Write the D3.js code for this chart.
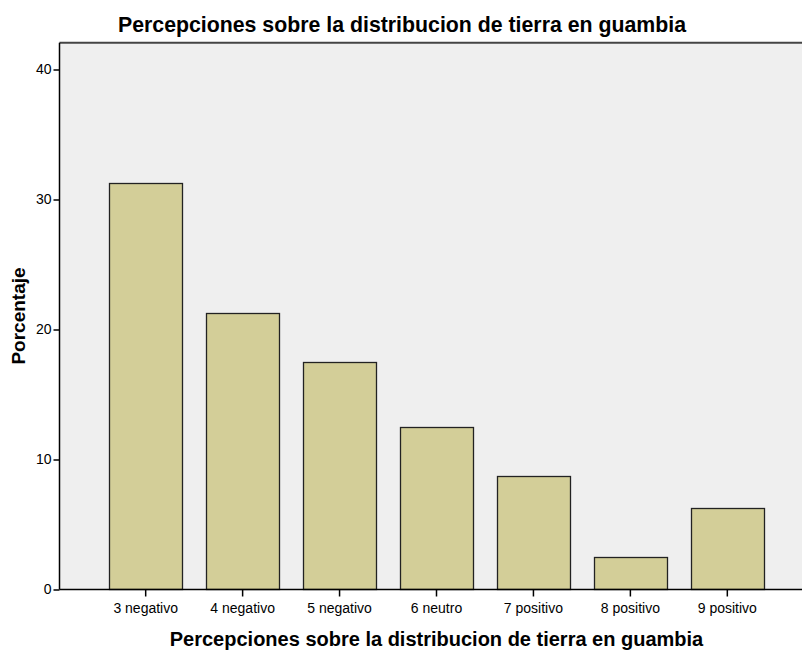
<!DOCTYPE html>
<html><head><meta charset="utf-8">
<script src="https://cdn.jsdelivr.net/npm/d3@7"></script>
<style>body{margin:0;background:#fff}svg{display:block;font-family:"Liberation Sans",Arial,sans-serif}</style>
</head><body><svg id="c" width="802" height="651"></svg>
<script>
const categories = ["3 negativo","4 negativo","5 negativo","6 neutro","7 positivo","8 positivo","9 positivo"];
const values = [31.25, 21.25, 17.5, 12.5, 8.75, 2.5, 6.25];
const yTicks = [0, 10, 20, 30, 40];
const title = "Percepciones sobre la distribucion de tierra en guambia";
const yLabel = "Porcentaje";

const svg = d3.select("#c");
const L = 59.5, R = 813.5, T = 42.7, B = 589.5;
const x = d3.scaleBand().domain(categories).range([L, R]).paddingInner(0.25).paddingOuter(0.514);
const y = d3.scaleLinear().domain([0, (B - T) / 13]).range([B, T]);

svg.append("rect").attr("x", L).attr("y", T).attr("width", R - L).attr("height", B - T).attr("fill", "#efefef");
svg.append("line").attr("x1", L).attr("x2", 802).attr("y1", T).attr("y2", T).attr("stroke", "#444").attr("stroke-width", 2);

svg.selectAll("rect.bar").data(values).enter().append("rect").attr("class", "bar")
  .attr("x", (d, i) => Math.round(x(categories[i])) + 0.5)
  .attr("width", Math.round(x.bandwidth()))
  .attr("y", d => Math.round(y(d)) + 0.5)
  .attr("height", d => B - Math.round(y(d)) - 0.5)
  .attr("fill", "#d3ce98").attr("stroke", "#222").attr("stroke-width", 1.3);

const yAxis = svg.append("g").attr("transform", `translate(${L},0)`)
  .call(d3.axisLeft(y).tickValues(yTicks).tickSize(6).tickPadding(2).tickFormat(d3.format("d")));
const xAxis = svg.append("g").attr("transform", `translate(0,${B})`)
  .call(d3.axisBottom(x).tickSize(7).tickPadding(7));
[yAxis, xAxis].forEach(g => {
  g.select(".domain").attr("stroke", "#000").attr("stroke-width", 1.5);
  g.selectAll(".tick line").attr("stroke", "#000").attr("stroke-width", 1.5);
  g.selectAll("text").attr("fill", "#000").attr("font-size", 14).attr("font-family", '"Liberation Sans",Arial,sans-serif');
});
xAxis.select(".domain").attr("d", `M${L},0H802`);
yAxis.select(".domain").attr("d", `M0,${T}V${B}`);

svg.append("text").attr("x", 402).attr("y", 32).attr("text-anchor", "middle")
  .attr("font-size", 21.3).attr("font-weight", "bold").text(title);
svg.append("text").attr("x", (L + R) / 2).attr("y", 646).attr("text-anchor", "middle")
  .attr("font-size", 20).attr("font-weight", "bold").text(title);
svg.append("text").attr("transform", `translate(24.5,316) rotate(-90)`).attr("text-anchor", "middle")
  .attr("font-size", 19).attr("font-weight", "bold").text(yLabel);
</script></body></html>
